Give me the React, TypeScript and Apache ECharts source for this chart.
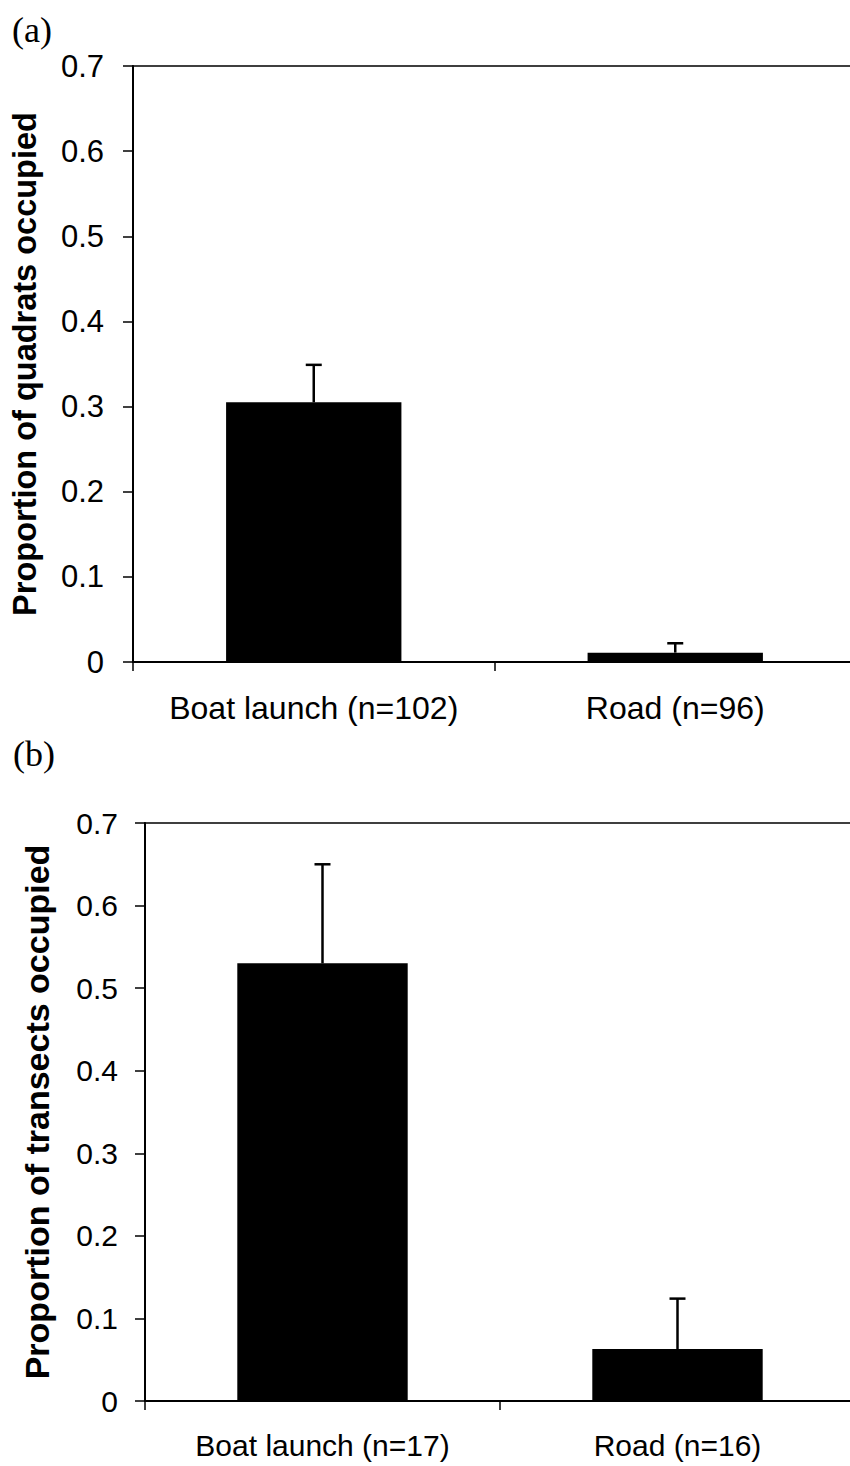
import React, { useEffect, useRef } from "react";
import * as echarts from "echarts";

const categoriesA = ["Boat launch (n=102)", "Road (n=96)"];
const valuesA = [0.305, 0.011];
const errTopA = [0.349, 0.022];

const categoriesB = ["Boat launch (n=17)", "Road (n=16)"];
const valuesB = [0.53, 0.063];
const errTopB = [0.65, 0.124];

const yTicks = [0, 0.1, 0.2, 0.3, 0.4, 0.5, 0.6, 0.7];
const titleA = "Proportion of quadrats occupied";
const titleB = "Proportion of transects occupied";
const panelA = "(a)";
const panelB = "(b)";

const FONT = "Liberation Sans, Arial, sans-serif";

function errorRender(params: any, api: any) {
  const x = api.value(0);
  const lo = api.value(1);
  const hi = api.value(2);
  const p0 = api.coord([x, lo]);
  const p1 = api.coord([x, hi]);
  return {
    type: "group",
    children: [
      {
        type: "line",
        shape: { x1: p0[0], y1: p0[1], x2: p1[0], y2: p1[1] },
        style: { stroke: "#000", lineWidth: 2.5 },
      },
      {
        type: "line",
        shape: { x1: p1[0] - 8, y1: p1[1], x2: p1[0] + 8, y2: p1[1] },
        style: { stroke: "#000", lineWidth: 2.5 },
      },
    ],
  };
}

export default function App() {
  const ref = useRef<HTMLDivElement>(null);
  useEffect(() => {
    if (!ref.current) return;
    const chart = echarts.init(ref.current, null, { renderer: "svg" });
    const yAxisCommon = (
      name: string, gridIndex: number, margin: number, nameGap: number,
      fontSize: number, nameSize: number
    ) => ({
      type: "value",
      gridIndex,
      min: yTicks[0],
      max: yTicks[yTicks.length - 1],
      interval: 0.1,
      name,
      nameLocation: "middle",
      nameGap,
      nameRotate: 90,
      nameTextStyle: { fontFamily: FONT, fontWeight: "bold", fontSize: nameSize, color: "#000" },
      axisLine: { show: true, lineStyle: { color: "#000", width: 2 } },
      axisTick: { show: true, length: 10, lineStyle: { color: "#000", width: 1.5 } },
      axisLabel: {
        margin,
        fontFamily: FONT,
        fontSize,
        color: "#000",
        formatter: (v: number) => (v === 0 ? "0" : v.toFixed(1)),
      },
      splitLine: { show: false },
    });
    const xAxisCommon = (data: string[], gridIndex: number, margin: number, fontSize: number) => ({
      type: "category",
      gridIndex,
      data,
      axisLine: { show: true, lineStyle: { color: "#000", width: 2 } },
      axisTick: { show: true, length: 9, interval: 0, lineStyle: { color: "#000", width: 1.5 } },
      axisLabel: { interval: 0, hideOverlap: false, margin, fontFamily: FONT, fontSize, color: "#000" },
    });
    chart.setOption({
      animation: false,
      backgroundColor: "#fff",
      grid: [
        {
          left: 133, top: 66, width: 723, height: 596,
          show: true, borderColor: "#000", borderWidth: 1.5,
          containLabel: false, outerBoundsMode: "none",
        },
        {
          left: 145, top: 823, width: 710, height: 578,
          show: true, borderColor: "#000", borderWidth: 1.5,
          containLabel: false, outerBoundsMode: "none",
        },
      ],
      xAxis: [xAxisCommon(categoriesA, 0, 30, 32), xAxisCommon(categoriesB, 1, 29, 30)],
      yAxis: [
        yAxisCommon(titleA, 0, 29, 92, 31, 32.5),
        yAxisCommon(titleB, 1, 27, 91, 30, 34),
      ],
      graphic: [
        {
          type: "text", left: 12, top: 12,
          style: { text: panelA, font: "36px 'Liberation Serif', 'Times New Roman', serif", fill: "#000" },
        },
        {
          type: "text", left: 13, top: 736,
          style: { text: panelB, font: "36px 'Liberation Serif', 'Times New Roman', serif", fill: "#000" },
        },
      ],
      series: [
        {
          type: "bar", xAxisIndex: 0, yAxisIndex: 0, data: valuesA,
          barWidth: "48.5%", itemStyle: { color: "#000" },
        },
        {
          type: "custom", xAxisIndex: 0, yAxisIndex: 0,
          data: valuesA.map((v, i) => [i, v, errTopA[i]]),
          encode: { x: 0, y: [1, 2] },
          renderItem: errorRender, z: 5,
        },
        {
          type: "bar", xAxisIndex: 1, yAxisIndex: 1, data: valuesB,
          barWidth: "48%", itemStyle: { color: "#000" },
        },
        {
          type: "custom", xAxisIndex: 1, yAxisIndex: 1,
          data: valuesB.map((v, i) => [i, v, errTopB[i]]),
          encode: { x: 0, y: [1, 2] },
          renderItem: errorRender, z: 5,
        },
      ],
    });
    return () => chart.dispose();
  }, []);
  return (
    <div
      ref={ref}
      style={{ position: "absolute", left: 0, top: 0, width: 850, height: 1466, background: "#fff" }}
    />
  );
}
